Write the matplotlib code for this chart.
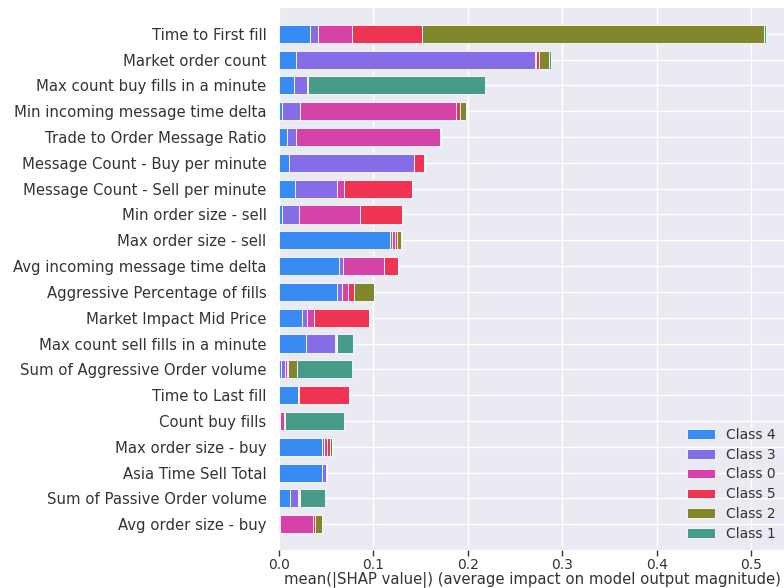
#!/usr/bin/env python3

import matplotlib
matplotlib.use("Agg")
import matplotlib.pyplot as plt
import numpy as np

features = ["Time to First fill", "Market order count", "Max count buy fills in a minute",
            "Min incoming message time delta", "Trade to Order Message Ratio",
            "Message Count - Buy per minute", "Message Count - Sell per minute",
            "Min order size - sell", "Max order size - sell", "Avg incoming message time delta",
            "Aggressive Percentage of fills", "Market Impact Mid Price",
            "Max count sell fills in a minute", "Sum of Aggressive Order volume",
            "Time to Last fill", "Count buy fills", "Max order size - buy",
            "Asia Time Sell Total", "Sum of Passive Order volume", "Avg order size - buy"]

class_names = ["Class 4", "Class 3", "Class 0", "Class 5", "Class 2", "Class 1"]

class4 = [0.0325, 0.0185, 0.0159, 0.0036, 0.0085, 0.0103, 0.0166, 0.0030, 0.1180, 0.0638,
          0.0617, 0.0240, 0.0286, 0.0025, 0.0201, 0.0010, 0.0451, 0.0460, 0.0113, 0.0010]
class3 = [0.0089, 0.2520, 0.0138, 0.0186, 0.0092, 0.1323, 0.0451, 0.0177, 0.0015, 0.0035,
          0.0046, 0.0053, 0.0304, 0.0040, 0.0005, 0.0005, 0.0028, 0.0035, 0.0085, 0.0005]
class0 = [0.0356, 0.0010, 0.0005, 0.1648, 0.1527, 0.0005, 0.0071, 0.0653, 0.0030, 0.0441,
          0.0063, 0.0080, 0.0010, 0.0020, 0.0005, 0.0035, 0.0028, 0.0005, 0.0010, 0.0340]
class5 = [0.0748, 0.0037, 0.0005, 0.0042, 0.0005, 0.0106, 0.0716, 0.0444, 0.0020, 0.0141,
          0.0070, 0.0579, 0.0008, 0.0005, 0.0532, 0.0010, 0.0030, 0.0003, 0.0010, 0.0030]
class2 = [0.3620, 0.0106, 0.0005, 0.0070, 0.0003, 0.0003, 0.0003, 0.0003, 0.0050, 0.0003,
          0.0205, 0.0003, 0.0010, 0.0100, 0.0003, 0.0005, 0.0025, 0.0003, 0.0005, 0.0070]
class1 = [0.0018, 0.0016, 0.1870, 0.0003, 0.0003, 0.0003, 0.0003, 0.0003, 0.0003, 0.0003,
          0.0003, 0.0003, 0.0160, 0.0580, 0.0003, 0.0620, 0.0010, 0.0003, 0.0260, 0.0003]

colors = ["#388bf2", "#866de8", "#d543a8", "#ee3452", "#82862a", "#469c89"]

plt.rcParams['font.family'] = 'DejaVu Sans'
plt.rcParams['font.size'] = 10.7

fig = plt.figure(figsize=(7.84, 5.88), dpi=100)
ax = fig.add_axes([279/784, 1 - 550/588, 506/784, 542/588])
ax.set_facecolor("#eaeaf2")
for s in ax.spines.values():
    s.set_visible(False)

# stacked bars, first feature on top
y = np.arange(len(features))[::-1]
left = np.zeros(len(features))
for name, vals, c in zip(class_names, [class4, class3, class0, class5, class2, class1], colors):
    vals = np.array(vals)
    ax.barh(y, vals, 0.7, left=left, color=c, edgecolor="white", linewidth=0.6,
            label=name, zorder=3)
    left += vals

ax.set_yticks(y)
ax.set_yticklabels(features, color="#333333")
ax.set_xticks([0, 0.1, 0.2, 0.3, 0.4, 0.5])
ax.set_xticklabels(["0.0", "0.1", "0.2", "0.3", "0.4", "0.5"], color="#333333", fontsize=10)
ax.tick_params(axis="y", length=0, pad=9)
ax.tick_params(axis="x", length=4, width=1, color="#333333", pad=2)
ax.set_xlim(0, 0.5355)
ax.set_ylim(-1, len(features))
ax.grid(True, color="white", linewidth=1, zorder=0)
ax.set_axisbelow(True)
ax.set_xlabel("mean(|SHAP value|) (average impact on model output magnitude)",
              color="#333333", labelpad=0)

ax.legend(loc="lower right", frameon=False, labelcolor="#333333", fontsize=10,
          handlelength=2.0, labelspacing=0.42, borderaxespad=0.25)

fig.savefig("out.png", dpi=100)
